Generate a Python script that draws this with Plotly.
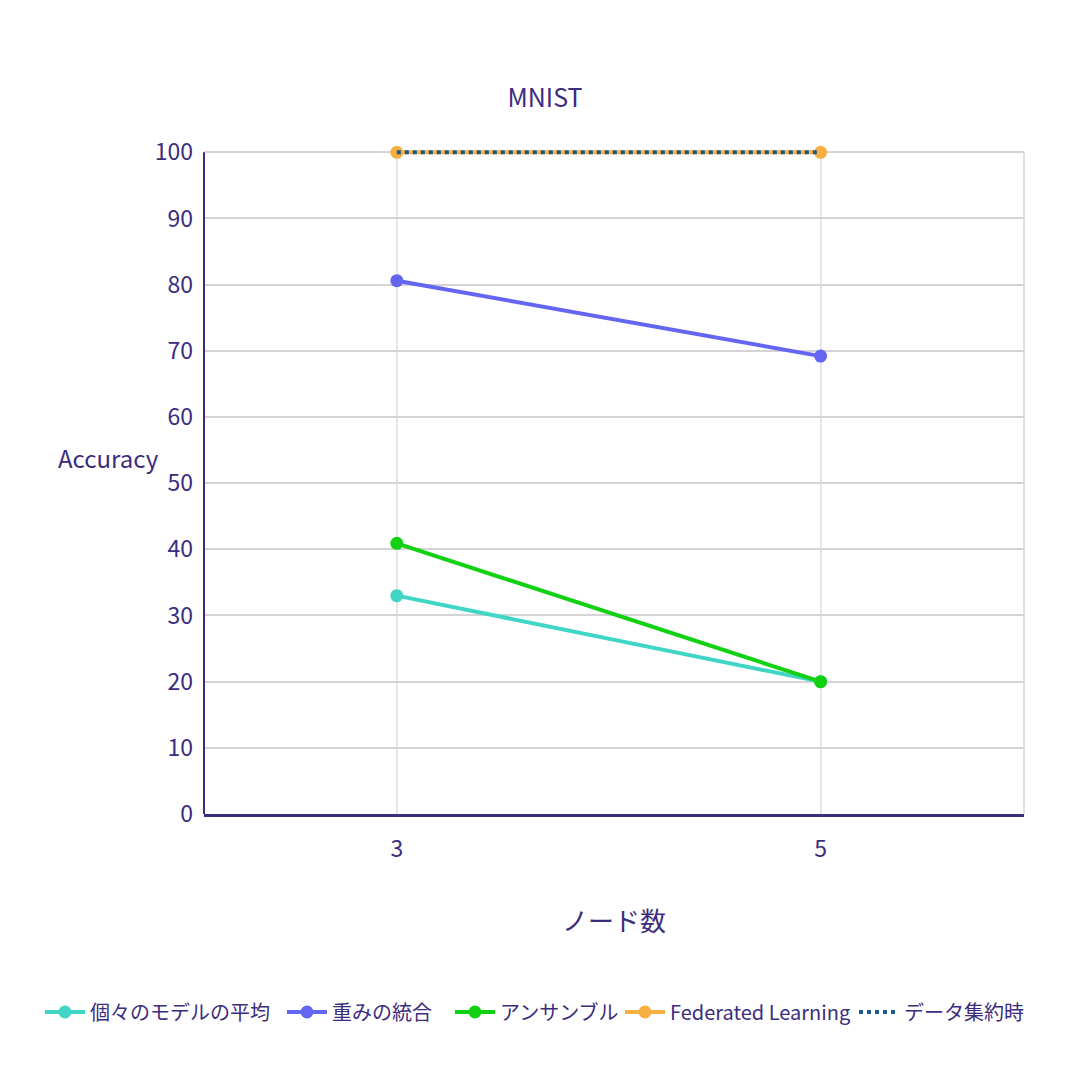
import plotly.graph_objects as go

nodes = ["3", "5"]
avg_individual = [33.0, 20.0]
weight_merge = [80.6, 69.2]
ensemble = [40.9, 20.0]
federated = [100.0, 100.0]
data_aggregated = [100.0, 100.0]

TXT = "#3b2c7e"
FONT = "Noto Sans CJK JP, Noto Sans, sans-serif"

fig = go.Figure()
fig.add_trace(go.Scatter(x=nodes, y=avg_individual, name="個々のモデルの平均", mode="lines+markers",
                         line=dict(color="#3fd6c6", width=4), marker=dict(size=13, color="#3fd6c6"),
                         cliponaxis=False, legend="legend"))
fig.add_trace(go.Scatter(x=nodes, y=weight_merge, name="重みの統合", mode="lines+markers",
                         line=dict(color="#6466f1", width=4), marker=dict(size=13, color="#6466f1"),
                         cliponaxis=False, legend="legend2"))
fig.add_trace(go.Scatter(x=nodes, y=ensemble, name="アンサンブル", mode="lines+markers",
                         line=dict(color="#12d112", width=4), marker=dict(size=13, color="#12d112"),
                         cliponaxis=False, legend="legend3"))
fig.add_trace(go.Scatter(x=nodes, y=federated, name="Federated Learning", mode="lines+markers",
                         line=dict(color="#f5b041", width=4), marker=dict(size=13, color="#f5b041"),
                         cliponaxis=False, legend="legend4"))
fig.add_trace(go.Scatter(x=nodes, y=data_aggregated, name="データ集約時", mode="lines",
                         line=dict(color="#1b5a8c", width=4, dash="dot"), cliponaxis=False,
                         legend="legend5"))


def leg(px):
    return dict(orientation="h", xref="container", yref="container", x=px / 1090, xanchor="left",
                y=1 - 1012 / 1090, yanchor="middle", bgcolor="rgba(0,0,0,0)",
                font=dict(size=20, color=TXT), itemwidth=40)


YMAX = 100.8
fig.update_layout(
    width=1090, height=1090,
    paper_bgcolor="white", plot_bgcolor="white",
    font=dict(family=FONT, color=TXT, size=22),
    margin=dict(l=204, r=66, t=147, b=276),
    title=dict(text="MNIST", x=0.5, xanchor="center", y=1 - 98 / 1090, yanchor="middle",
               font=dict(size=25, color=TXT)),
    xaxis=dict(type="category", range=[-0.455, 1.48], showgrid=True, gridcolor="#e6e6e6", gridwidth=1.5,
               showline=True, linecolor=TXT, linewidth=2.5, ticks="", tickfont=dict(size=23, color=TXT),
               ticklabelstandoff=13,
               title=dict(text="ノード数", font=dict(size=26, color=TXT), standoff=50), zeroline=False),
    yaxis=dict(range=[0, YMAX], tick0=0, dtick=10, showgrid=True, gridcolor="#d4d4d4", gridwidth=1.5,
               showline=False, ticks="", tickfont=dict(size=23, color=TXT),
               zeroline=False, ticklabelstandoff=10),
    legend=leg(40), legend2=leg(282), legend3=leg(450), legend4=leg(620), legend5=leg(854),
    showlegend=True,
)
fig.add_shape(type="line", xref="paper", yref="y", x0=1, x1=1, y0=0, y1=100,
              line=dict(color="#d4d4d4", width=1.5), layer="below")
fig.add_shape(type="line", xref="paper", yref="y", x0=0, x1=0, y0=0, y1=100,
              line=dict(color=TXT, width=2))
fig.add_annotation(text="Accuracy", xref="paper", yref="paper", x=(108 - 204) / 820, y=(814 - 457) / 667,
                   xanchor="center", yanchor="middle", showarrow=False, font=dict(size=24, color=TXT))

fig.write_html("out.html")
